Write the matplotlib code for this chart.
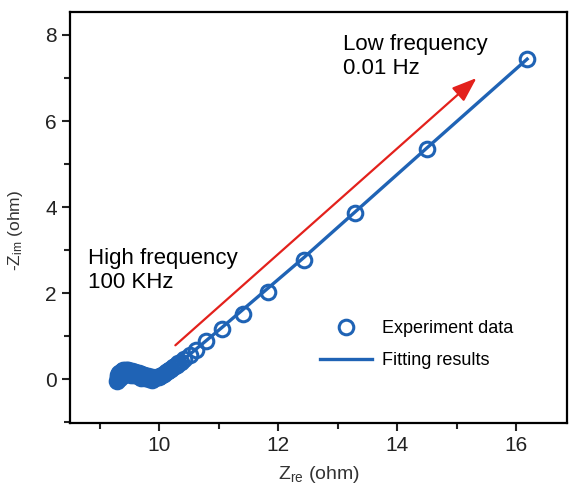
import matplotlib
matplotlib.use("Agg")
import matplotlib.pyplot as plt
from matplotlib.ticker import MultipleLocator

plt.rcParams['font.family'] = ['Liberation Sans', 'DejaVu Sans']
plt.rcParams['mathtext.fontset'] = 'custom'
plt.rcParams['mathtext.rm'] = 'Liberation Sans'
plt.rcParams['mathtext.it'] = 'Liberation Sans'

# experiment data (Nyquist plot), dense at high frequency
z_re = [9.29, 9.30, 9.30, 9.31, 9.32, 9.33, 9.35, 9.37, 9.39, 9.42, 9.45,
        9.48, 9.51, 9.54, 9.57, 9.60, 9.63, 9.66, 9.69, 9.72, 9.75, 9.78,
        9.81, 9.84, 9.87, 9.90, 9.93, 9.96, 9.99, 10.02, 10.05, 10.08,
        10.11, 10.14, 10.17, 10.20, 10.23, 10.26, 10.29, 10.32, 10.36,
        10.42, 10.51, 10.62, 10.78, 11.05, 11.40, 11.83, 12.43,
        13.29, 14.50, 16.18,
        9.34, 9.40, 9.46, 9.52, 9.58, 9.64, 9.70, 9.76, 9.82, 9.88]
z_im = [-0.03, 0.01, 0.05, 0.09, 0.12, 0.15, 0.18, 0.20, 0.21, 0.22, 0.22,
        0.21, 0.20, 0.19, 0.18, 0.17, 0.15, 0.14, 0.12, 0.11, 0.10, 0.08,
        0.07, 0.06, 0.05, 0.04, 0.04, 0.05, 0.06, 0.08, 0.10, 0.13,
        0.16, 0.19, 0.22, 0.25, 0.28, 0.31, 0.34, 0.37, 0.41,
        0.47, 0.56, 0.68, 0.88, 1.17, 1.51, 2.02, 2.78,
        3.86, 5.35, 7.44,
        0.04, 0.10, 0.12, 0.11, 0.09, 0.07, 0.04, 0.02, 0.00, -0.01]

# fitting results
fit_re = [9.30, 9.34, 9.45, 9.65, 9.90, 10.10, 10.40, 11.05, 12.43, 14.50, 16.18]
fit_im = [0.02, 0.14, 0.21, 0.15, 0.05, 0.16, 0.45, 1.20, 2.83, 5.38, 7.44]

blue = '#1f63b5'
red = '#e3211c'

fig = plt.figure(figsize=(5.69, 4.87), dpi=100)
ax = fig.add_axes([0.123, 0.131, 0.8735, 0.844])

ax.plot(z_re, z_im, 'o', ms=10.5, mfc='none', mec=blue, mew=2.2,
        label='Experiment data', zorder=3)
ax.plot(fit_re, fit_im, '-', color=blue, lw=2.4, label='Fitting results', zorder=2)

# frequency direction arrow
ax.annotate('', xy=(15.33, 7.0), xytext=(10.27, 0.79),
            arrowprops=dict(arrowstyle='-|>,head_length=1.5,head_width=0.55',
                            color=red, lw=1.6, shrinkA=0, shrinkB=0))

ax.text(13.08, 8.02, 'Low frequency\n0.01 Hz', fontsize=16, va='top', ha='left')
ax.text(8.81, 3.05, 'High frequency\n100 KHz', fontsize=16, va='top', ha='left')

ax.set_xlim(8.5, 16.85)
ax.set_ylim(-1.02, 8.53)
ax.xaxis.set_major_locator(MultipleLocator(2))
ax.xaxis.set_minor_locator(MultipleLocator(1))
ax.yaxis.set_major_locator(MultipleLocator(2))
ax.yaxis.set_minor_locator(MultipleLocator(1))
ax.tick_params(which='both', direction='out', width=1.5, labelsize=15, colors='#222222')
ax.tick_params(which='major', length=6)
ax.tick_params(which='minor', length=4)
for s in ax.spines.values():
    s.set_linewidth(1.6)

ax.set_xlabel(r'Z$_{\mathrm{re}}$ (ohm)', fontsize=14, color='#333333')
ax.set_ylabel(r'-Z$_{\mathrm{im}}$ (ohm)', fontsize=12.5, color='#333333')
ax.xaxis.set_label_coords(0.5, -0.1)
ax.yaxis.set_label_coords(-0.09, 0.47)

ax.legend(loc='upper left', bbox_to_anchor=(0.503, 0.25), frameon=False,
          fontsize=13, borderpad=0, borderaxespad=0, handlelength=2.9,
          handletextpad=0.55, labelspacing=0.8)

fig.savefig('out.png', dpi=100)
